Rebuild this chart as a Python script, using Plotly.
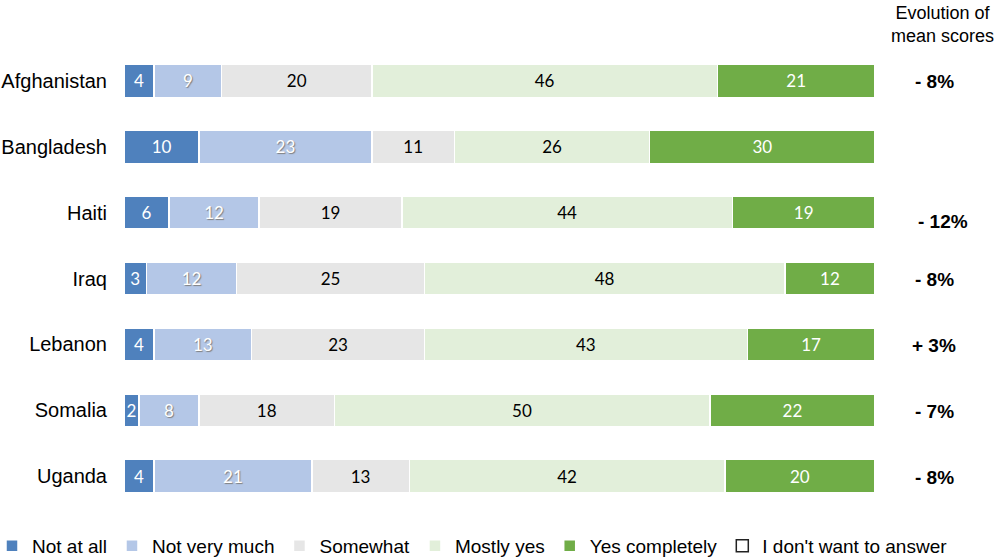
import plotly.graph_objects as go

countries = ["Afghanistan", "Bangladesh", "Haiti", "Iraq", "Lebanon", "Somalia", "Uganda"]
not_at_all = [4, 10, 6, 3, 4, 2, 4]
not_very_much = [9, 23, 12, 12, 13, 8, 21]
somewhat = [20, 11, 19, 25, 23, 18, 13]
mostly_yes = [46, 26, 44, 48, 43, 50, 42]
yes_completely = [21, 30, 19, 12, 17, 22, 20]
no_answer = [None, None, None, None, None, None, None]
evolution = ["- 8%", "", "- 12%", "- 8%", "+ 3%", "- 7%", "- 8%"]

series = [
    ("Not at all", not_at_all, "#4F81BD", "white"),
    ("Not very much", not_very_much, "#B4C7E7", "white"),
    ("Somewhat", somewhat, "#E6E6E6", "black"),
    ("Mostly yes", mostly_yes, "#E2EFDA", "black"),
    ("Yes completely", yes_completely, "#70AD47", "white"),
]

FONT = "Liberation Sans, Arial, sans-serif"
L, R, T, B = 124, 0, 48, 51
PW, PH = 1000 - L - R, 560 - T - B
BAR_END_PX = 875  # pixel where 100% lands
XMAX = 100 * PW / (BAR_END_PX - L)

def px_x(px):
    return (px - L) / PW

def px_y(py):
    return 1 - (py - T) / PH

fig = go.Figure()
for name, vals, color, tcolor in series:
    fig.add_trace(go.Bar(
        name=name, y=countries, x=vals, orientation="h",
        marker=dict(color=color, line=dict(color="white", width=1.5)),
        text=[str(v) for v in vals], textposition="inside", insidetextanchor="middle",
        textfont=dict(family="Lato, Calibri, sans-serif", size=17, color=tcolor,
                      shadow="1px 1px 1px #7f7f7f" if name == "Not very much" else "none"),
        constraintext="none",
    ))
fig.add_trace(go.Bar(
    name="I don't want to answer", y=countries, x=no_answer, orientation="h",
    marker=dict(color="white", line=dict(color="#222222", width=1.5)),
))

for c, ev in zip(countries, evolution):
    if ev:
        fig.add_annotation(
            x=px_x(934), y=c, xref="paper", yref="y", text="<b>" + ev + "</b>", showarrow=False,
            font=dict(family=FONT, size=19, color="black"),
            xanchor="center", yanchor="middle",
            yshift=-9 if c == "Haiti" else -1,
            xshift=9 if c == "Haiti" else 0,
        )

fig.add_annotation(
    x=px_x(942), y=px_y(24), xref="paper", yref="paper", text="Evolution of<br>mean scores",
    showarrow=False, font=dict(family=FONT, size=18, color="black"),
    xanchor="center", yanchor="middle",
)

fig.update_layout(
    barmode="stack", bargap=0.5,
    width=1000, height=560,
    margin=dict(l=L, r=R, t=T, b=B, autoexpand=False),
    plot_bgcolor="white", paper_bgcolor="white",
    xaxis=dict(range=[0, XMAX], visible=False, fixedrange=True),
    yaxis=dict(autorange="reversed", showgrid=False, showline=False, zeroline=False,
               automargin=False,
               tickfont=dict(family=FONT, size=20, color="black"), ticks="", ticklabelstandoff=16),
    showlegend=True,
    legend=dict(orientation="h", x=px_x(-8), y=px_y(527), xanchor="left", yanchor="top",
                font=dict(family=FONT, size=19, color="black"),
                itemwidth=30, tracegroupgap=0, traceorder="normal"),
    font=dict(family=FONT),
)

fig.write_html("out.html", config={"displayModeBar": False},
               post_script="document.body.style.margin='0px';")
